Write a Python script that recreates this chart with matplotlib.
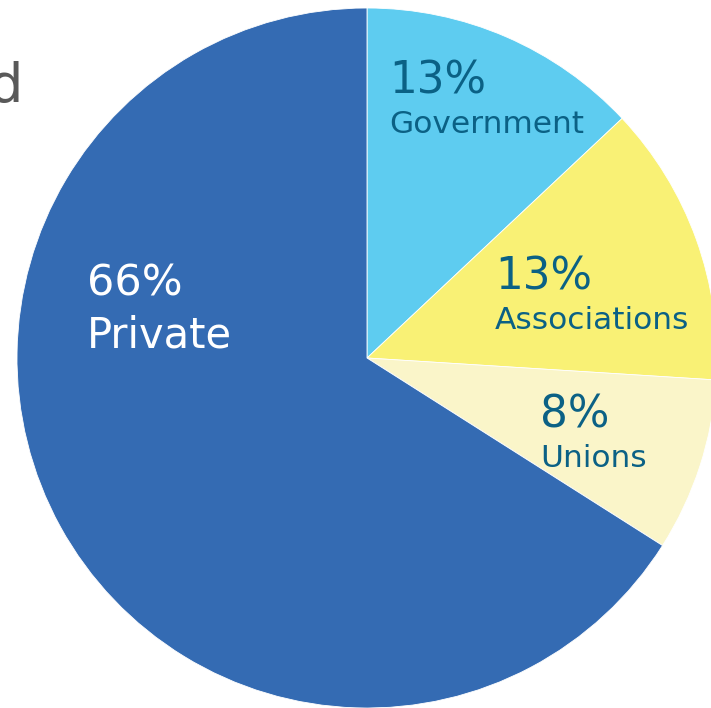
import matplotlib.pyplot as plt

# wedge data, clockwise from the top
labels = ["Government", "Associations", "Unions", "Private"]
shares = [13, 13, 8, 66]
colors = ["#5ECCF0", "#F9F175", "#FAF5C9", "#346BB3"]
text_colors = ["#0B6185", "#0B6185", "#0B6185", "white"]

W, H = 711, 708
fig = plt.figure(figsize=(W / 100, H / 100), dpi=100)
ax = fig.add_axes([0, 0, 1, 1])

cx, cy, r = 367, H - 358, 350
ax.pie(shares, colors=colors, startangle=90, counterclock=False,
       center=(cx, cy), radius=r, frame=True,
       wedgeprops=dict(edgecolor="white", linewidth=0.6))
ax.set_xlim(0, W)
ax.set_ylim(0, H)
ax.axis("off")

# label anchors (left x, pct baseline, name baseline, sizes) in px from top
anchors = {
    "Government": (389, 93, 133, 31.5, 22.5),
    "Associations": (495, 289, 329, 31.5, 22.5),
    "Unions": (540, 427, 467, 31.5, 22.5),
    "Private": (87, 296, 348, 31, 30),
}
for lab, val, tc in zip(labels, shares, text_colors):
    x, yp, yn, fp, fn = anchors[lab]
    ax.text(x, H - yp, f"{val}%", color=tc, fontsize=fp,
            ha="left", va="baseline")
    ax.text(x, H - yn, lab, color=tc, fontsize=fn,
            ha="left", va="baseline")

# cut-off title remnant at top left
ax.text(23, H - 102, "d", color="#595959", fontsize=39,
        ha="right", va="baseline")

fig.savefig("out.png", dpi=100)
